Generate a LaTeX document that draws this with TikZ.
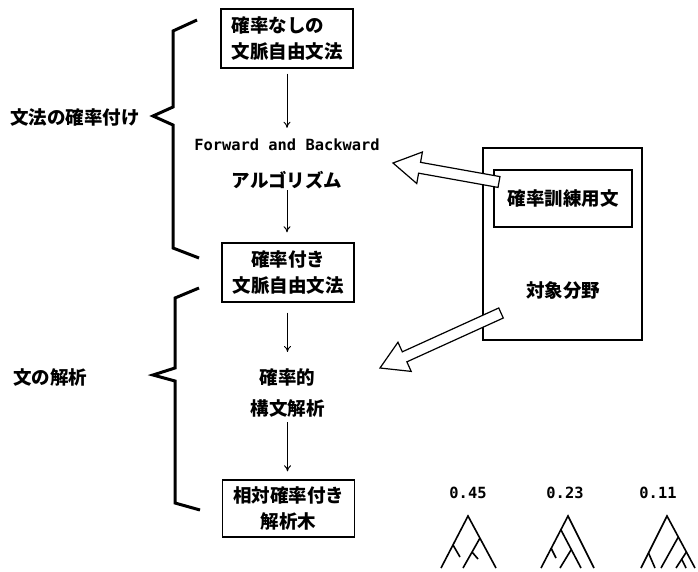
\documentclass[tikz,border=0pt]{standalone}
\usepackage{fontspec}
\setmonofont{DejaVu Sans Mono}
\newfontfamily\jp{Noto Sans CJK JP}
\usetikzlibrary{calc,arrows.meta}
\tikzset{
  jpfont/.style={font=\jp\bfseries\fontsize{18.5}{25.5}\selectfont},
  box/.style={draw, line width=1.3pt, minimum width=132pt, inner sep=0pt, jpfont, align=center},
  txt/.style={inner sep=0pt, jpfont},
  mono/.style={inner sep=0pt, font=\ttfamily\bfseries\fontsize{15.4}{18}\selectfont},
  arr/.style={line width=0.9pt, -{To[length=6pt,width=7pt]}},
  brace/.style={line width=3pt, line join=miter},
  harrow/.style={draw, fill=white, line width=1.2pt, line join=miter},
  frame/.style={draw, line width=1.3pt, inner sep=0pt},
  tree/.style={line width=1.6pt}
}
\newcommand\hollowarrow[2]{%
  \coordinate (hb) at ($(#2)!27pt!(#1)$);
  \filldraw[harrow] ($(#1)!5.5pt!90:(#2)$) -- ($(hb)!5.5pt!90:(#2)$) -- ($(hb)!16pt!90:(#2)$) -- (#2)
    -- ($(hb)!16pt!-90:(#2)$) -- ($(hb)!5.5pt!-90:(#2)$) -- ($(#1)!5.5pt!-90:(#2)$) -- cycle;}
\begin{document}
\begin{tikzpicture}[x=1pt,y=-1pt]
\useasboundingbox (0,0) rectangle (698,572);

% main chain
\node[box, align=left, minimum height=59pt] (g0) at (287,38.5) {確率なしの\\文脈自由文法};
\node[mono] (fbA) at (287,145) {Forward and Backward};
\node[txt] (fbB) at (287,180) {アルゴリズム};
\node[box, minimum height=59pt] (g1) at (288,272.5) {確率付き\\文脈自由文法};
\node[txt] (p1) at (287.5,377) {確率的};
\node[txt] (p2) at (287.5,408) {構文解析};
\node[box, minimum height=57pt] (g2) at (288.5,508.5) {相対確率付き\\解析木};

\draw[arr, shorten <=5pt, shorten >=11pt] (g0.south -| fbA) -- (fbA);
\draw[arr, shorten <=1pt, shorten >=10pt] (fbB) -- (g1.north -| fbB);
\draw[arr, shorten <=10pt, shorten >=16pt] (g1.south -| p1) -- (p1);
\draw[arr, shorten <=5pt, shorten >=8pt] (p2) -- (g2.north -| p2);

% braces and labels
\draw[brace] (197,20) -- (173,31) -- (173,107) -- (153,116) -- (173,125) -- (173,248) -- (199,258);
\node[txt] (lab1) at (75,117) {文法の確率付け};
\draw[brace] (199,288) -- (175,298) -- (175,368) -- (153,375) -- (175,381) -- (175,503) -- (200,510);
\node[txt] (lab2) at (50,377) {文の解析};

% domain box
\node[frame, minimum width=159pt, minimum height=192pt] (field) at (562.5,244) {};
\node[frame, minimum width=138pt, minimum height=57pt, jpfont] (train) at (563,198.5) {確率訓練用文};
\node[txt] (fieldlbl) at (563,290) {対象分野};

% hollow arrows
\coordinate (s1) at (499,182);
\coordinate (e1) at (393,163);
\hollowarrow{s1}{e1}
\coordinate (s2) at (501,313);
\coordinate (e2) at (380,368);
\hollowarrow{s2}{e2}

% probabilities and trees
\node[mono] (n1) at (468,493) {0.45};
\node[mono] (n2) at (565,493) {0.23};
\node[mono] (n3) at (658,493) {0.11};

\draw[tree] (441,568) -- (468,516) -- (496,568);
\draw[tree] (453,545) -- (460,557);
\draw[tree] (480,538) -- (463,568);
\draw[tree] (472,552) -- (478,559);

\draw[tree] (541,568) -- (568,516) -- (594,568);
\draw[tree] (561,530) -- (581,568);
\draw[tree] (551,548) -- (556,558);
\draw[tree] (571,550) -- (560,568);

\draw[tree] (641,568) -- (667,516) -- (695,568);
\draw[tree] (648.5,553) -- (655,568);
\draw[tree] (678.3,537) -- (661,568);
\draw[tree] (686.4,552) -- (676,568);
\draw[tree] (681.6,559) -- (686,568);
\end{tikzpicture}
\end{document}
